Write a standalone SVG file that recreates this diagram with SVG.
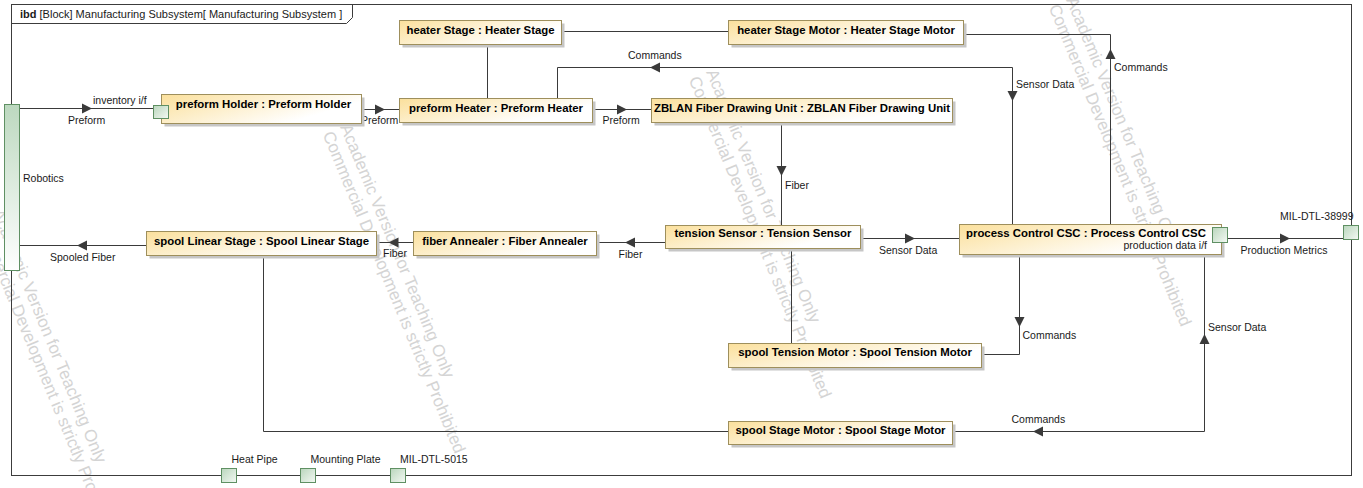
<svg xmlns="http://www.w3.org/2000/svg" width="1363" height="488" viewBox="0 0 1363 488">
<defs>
<linearGradient id="gNode" x1="0" y1="0" x2="1" y2="0.5">
<stop offset="0" stop-color="#FBE09C"/><stop offset="0.9" stop-color="#FFFFFF"/>
</linearGradient>
<linearGradient id="gPort" x1="0" y1="0" x2="1" y2="1">
<stop offset="0" stop-color="#B9D6BC"/><stop offset="1" stop-color="#F4F9F4"/>
</linearGradient>
<linearGradient id="gRob" x1="0" y1="0" x2="0" y2="1">
<stop offset="0" stop-color="#BCD8BF"/><stop offset="1" stop-color="#FFFFFF"/>
</linearGradient>
<path id="aR" d="M0,0 L-10,-5 L-10,5 Z"/>
</defs>
<style>
.frame{fill:none;stroke:#3c3c3c;stroke-width:1}
.c{fill:none;stroke:#3a3a3a;stroke-width:1}
.ah{fill:#3a3a3a}
.box{fill:url(#gNode);stroke:#9E8F5C;stroke-width:1}
.sh{fill:#C6C6C6}
.port{fill:url(#gPort);stroke:#5F9063;stroke-width:1}
.rob{fill:url(#gRob);stroke:#5F9063;stroke-width:1}
.nt{font-family:"Liberation Sans",Arial,sans-serif;font-size:11.4px;font-weight:bold;fill:#000;text-anchor:middle}
.lb{font-family:"Liberation Sans",Arial,sans-serif;font-size:10.5px;fill:#1a1a1a}
.hd{font-family:"Liberation Sans",Arial,sans-serif;font-size:11px;fill:#1a1a1a}
.wm{font-family:"Liberation Sans",Arial,sans-serif;font-size:17px;fill:#D4D4D4}
</style>
<rect x="0" y="0" width="1363" height="488" fill="#FFFFFF"/>

<g id="watermarks">
<g transform="translate(340,127) rotate(67.5)"><text class="wm" x="0" y="0">Academic Version for Teaching Only</text><text class="wm" x="0" y="19">Commercial Development is strictly Prohibited</text></g>
<g transform="translate(706,72) rotate(67.5)"><text class="wm" x="0" y="0">Academic Version for Teaching Only</text><text class="wm" x="0" y="19">Commercial Development is strictly Prohibited</text></g>
<g transform="translate(1066,0) rotate(67.5)"><text class="wm" x="0" y="0">Academic Version for Teaching Only</text><text class="wm" x="0" y="19">Commercial Development is strictly Prohibited</text></g>
<g transform="translate(-8,212) rotate(67.5)"><text class="wm" x="0" y="0">Academic Version for Teaching Only</text><text class="wm" x="0" y="19">Commercial Development is strictly Prohibited</text></g>
</g>

<g id="frame">
<rect class="frame" x="11.5" y="4.5" width="1340" height="471"/>
<path class="frame" d="M11.5,23.5 H346.5 L352.5,17.5 V4.5"/>
<text class="hd" x="20" y="18"><tspan font-weight="bold">ibd</tspan> [Block] Manufacturing Subsystem[ Manufacturing Subsystem ]</text>
</g>

<g id="connectors">
<path class="c" d="M19,108.5 H153"/>
<use href="#aR" class="ah" transform="translate(92,108.5)"/>
<text class="lb" x="93" y="103.5">inventory i/f</text>
<text class="lb" x="68" y="124">Preform</text>

<path class="c" d="M361,109.5 H399"/>
<use href="#aR" class="ah" transform="translate(385,109.5)"/>
<text class="lb" x="361" y="124">Preform</text>

<path class="c" d="M592,109.5 H651"/>
<use href="#aR" class="ah" transform="translate(627,109.5)"/>
<text class="lb" x="602.5" y="124">Preform</text>

<path class="c" d="M487.5,44 V98"/>
<path class="c" d="M561,31.5 H728"/>

<path class="c" d="M557.5,98 V67.5 H1012.5 V224"/>
<use href="#aR" class="ah" transform="translate(650,67.5) rotate(180)"/>
<use href="#aR" class="ah" transform="translate(1012.5,101) rotate(90)"/>
<text class="lb" x="628" y="58.5">Commands</text>
<text class="lb" x="1016" y="87.5">Sensor Data</text>

<path class="c" d="M963,34.5 H1110.5 V224"/>
<use href="#aR" class="ah" transform="translate(1110.5,49) rotate(-90)"/>
<text class="lb" x="1114" y="71">Commands</text>

<path class="c" d="M781.5,122 V225"/>
<use href="#aR" class="ah" transform="translate(781.5,176) rotate(90)"/>
<text class="lb" x="785" y="189">Fiber</text>

<path class="c" d="M665,242.5 H596"/>
<use href="#aR" class="ah" transform="translate(625,242.5) rotate(180)"/>
<text class="lb" x="618.5" y="258">Fiber</text>

<path class="c" d="M413,242.5 H376"/>
<use href="#aR" class="ah" transform="translate(388.5,242.5) rotate(180)"/>
<text class="lb" x="383" y="257">Fiber</text>

<path class="c" d="M146,245.5 H19"/>
<use href="#aR" class="ah" transform="translate(77,245.5) rotate(180)"/>
<text class="lb" x="50" y="261">Spooled Fiber</text>

<path class="c" d="M860,238.5 H959"/>
<use href="#aR" class="ah" transform="translate(915,238.5)"/>
<text class="lb" x="879" y="253.5">Sensor Data</text>

<path class="c" d="M791.5,248 V343"/>

<path class="c" d="M1019.5,254 V354.5 H981"/>
<use href="#aR" class="ah" transform="translate(1019.5,327) rotate(90)"/>
<text class="lb" x="1022.5" y="339">Commands</text>

<path class="c" d="M952,431.5 H1204.5 V254"/>
<use href="#aR" class="ah" transform="translate(1033,431.5) rotate(180)"/>
<use href="#aR" class="ah" transform="translate(1204.5,334) rotate(-90)"/>
<text class="lb" x="1011.5" y="422.5">Commands</text>
<text class="lb" x="1208" y="330.5">Sensor Data</text>

<path class="c" d="M263.5,255 V431.5 H728"/>

<path class="c" d="M1227,238.5 H1343"/>
<use href="#aR" class="ah" transform="translate(1290,238.5)"/>
<text class="lb" x="1240.5" y="253.5">Production Metrics</text>
<text class="lb" x="1280" y="219.5">MIL-DTL-38999</text>
</g>

<g id="robotics">
<rect class="rob" x="4.5" y="104.5" width="15" height="166"/>
<text class="lb" x="23" y="181.5">Robotics</text>
</g>

<g id="preformHolder">
<rect class="sh" x="164.5" y="97.5" width="200" height="29"/>
<rect class="box" x="161.5" y="94.5" width="200" height="29"/>
<text class="nt" x="263.5" y="108">preform Holder : Preform Holder</text>
<rect class="port" x="153.5" y="105.5" width="15" height="13"/>
</g>

<g id="heaterStage">
<rect class="sh" x="402.5" y="23.5" width="162" height="24"/>
<rect class="box" x="399.5" y="20.5" width="162" height="24"/>
<text class="nt" x="480.5" y="34">heater Stage : Heater Stage</text>
</g>

<g id="heaterStageMotor">
<rect class="sh" x="731.5" y="23.5" width="235" height="24"/>
<rect class="box" x="728.5" y="20.5" width="235" height="24"/>
<text class="nt" x="846" y="34">heater Stage Motor : Heater Stage Motor</text>
</g>

<g id="preformHeater">
<rect class="sh" x="402.5" y="101.5" width="193" height="24"/>
<rect class="box" x="399.5" y="98.5" width="193" height="24"/>
<text class="nt" x="496" y="111.5">preform Heater : Preform Heater</text>
</g>

<g id="zblanUnit">
<rect class="sh" x="654.5" y="101.5" width="301" height="24"/>
<rect class="box" x="651.5" y="98.5" width="301" height="24"/>
<text class="nt" x="802" y="111.5">ZBLAN Fiber Drawing Unit : ZBLAN Fiber Drawing Unit</text>
</g>

<g id="tensionSensor">
<rect class="sh" x="668.5" y="228.5" width="195" height="23"/>
<rect class="box" x="665.5" y="225.5" width="195" height="23"/>
<text class="nt" x="763" y="237">tension Sensor : Tension Sensor</text>
</g>

<g id="fiberAnnealer">
<rect class="sh" x="416.5" y="234.5" width="183" height="24"/>
<rect class="box" x="413.5" y="231.5" width="183" height="24"/>
<text class="nt" x="505" y="245">fiber Annealer : Fiber Annealer</text>
</g>

<g id="spoolLinearStage">
<rect class="sh" x="149.5" y="234.5" width="230" height="24"/>
<rect class="box" x="146.5" y="231.5" width="230" height="24"/>
<text class="nt" x="261.5" y="244.5">spool Linear Stage : Spool Linear Stage</text>
</g>

<g id="processControlCSC">
<rect class="sh" x="962.5" y="227.5" width="262" height="30"/>
<rect class="box" x="959.5" y="224.5" width="262" height="30"/>
<text class="nt" x="966" y="237" style="text-anchor:start">process Control CSC : Process Control CSC</text>
<text class="lb" x="1207" y="248.5" style="text-anchor:end">production data i/f</text>
<rect class="port" x="1212.5" y="227.5" width="15" height="15"/>
</g>

<g id="spoolTensionMotor">
<rect class="sh" x="731.5" y="346.5" width="253" height="24"/>
<rect class="box" x="728.5" y="343.5" width="253" height="24"/>
<text class="nt" x="855" y="356">spool Tension Motor : Spool Tension Motor</text>
</g>

<g id="spoolStageMotor">
<rect class="sh" x="731.5" y="424.5" width="224" height="23"/>
<rect class="box" x="728.5" y="421.5" width="224" height="23"/>
<text class="nt" x="840.5" y="433.5">spool Stage Motor : Spool Stage Motor</text>
</g>

<g id="boundaryPorts">
<rect class="port" x="1343.5" y="225.5" width="15" height="14"/>
<rect class="port" x="221.5" y="468.5" width="15" height="14"/>
<text class="lb" x="231.5" y="462.5">Heat Pipe</text>
<rect class="port" x="300.5" y="468.5" width="15" height="14"/>
<text class="lb" x="310.5" y="462.5">Mounting Plate</text>
<rect class="port" x="390.5" y="468.5" width="15" height="14"/>
<text class="lb" x="400" y="462.5">MIL-DTL-5015</text>
</g>
</svg>
